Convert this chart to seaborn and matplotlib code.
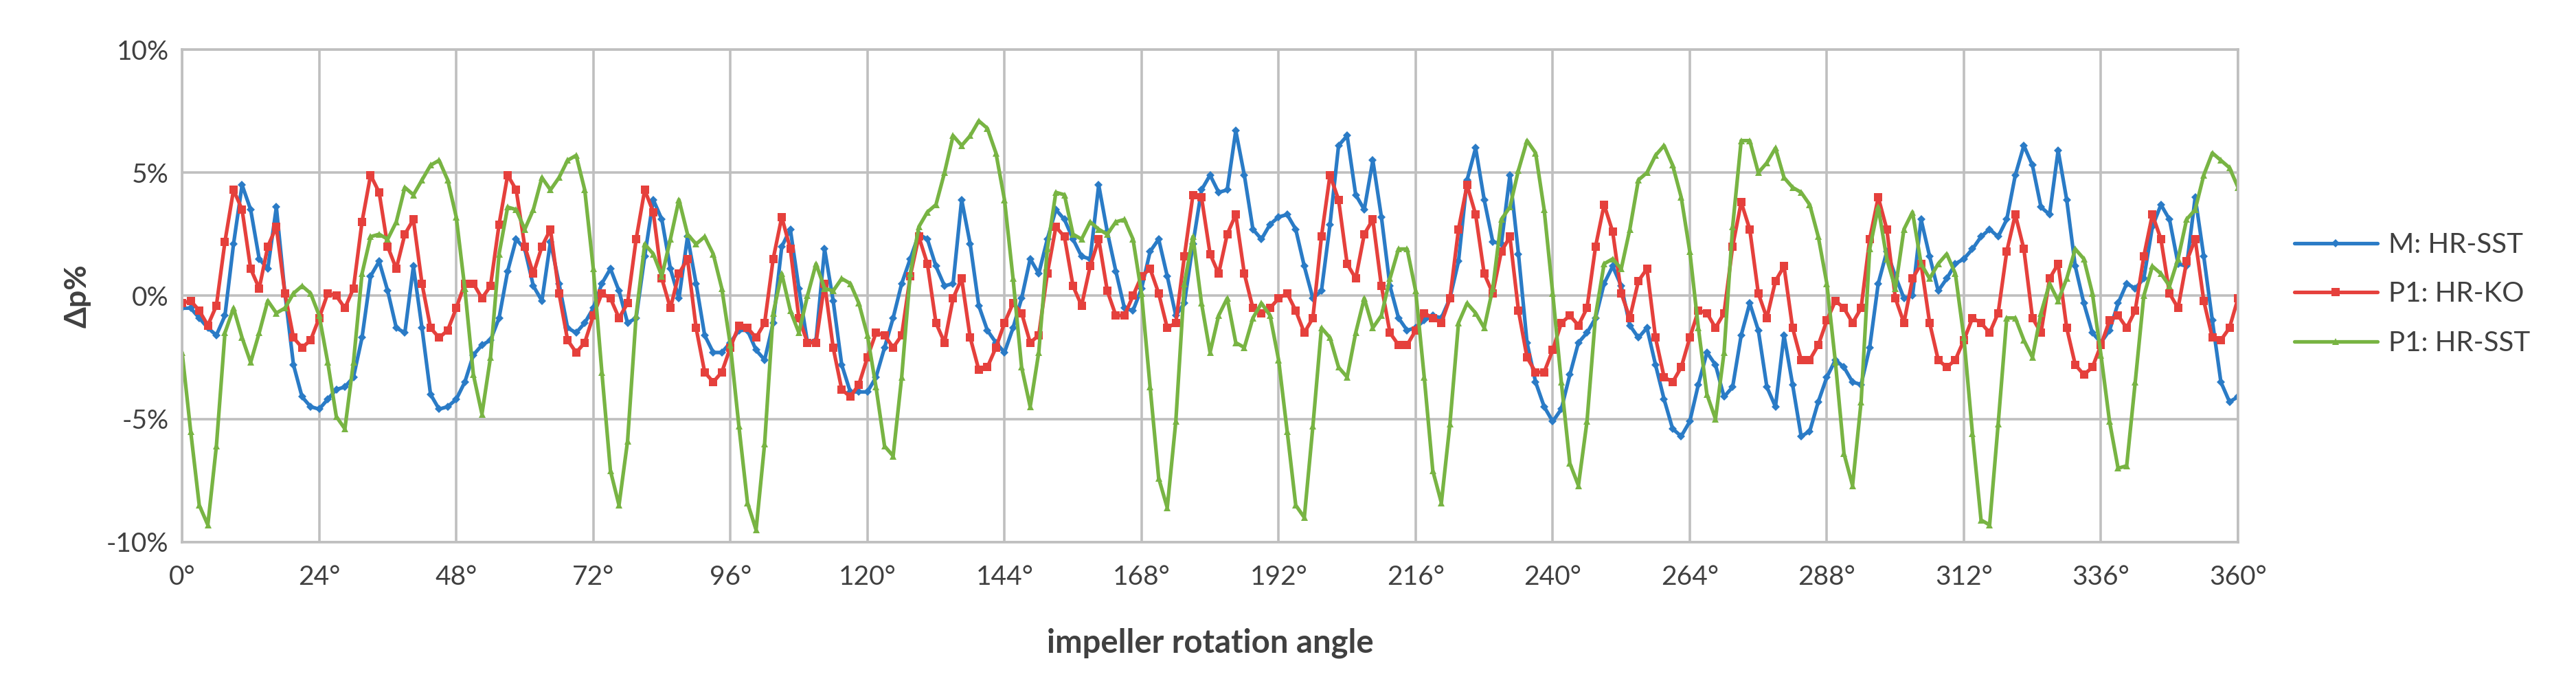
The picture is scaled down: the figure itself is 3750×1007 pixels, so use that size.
import numpy as np
import pandas as pd
import matplotlib
matplotlib.use('Agg')
import matplotlib.pyplot as plt
import seaborn as sns
from matplotlib.ticker import FuncFormatter

sns.set_style('white')
plt.rcParams['font.family'] = ['Lato', 'DejaVu Sans']

# impeller angle, one sample every 1.5 degrees (0..360)
angle = np.arange(0, 360.75, 1.5)

# pressure deviation in %
m_hr_sst = [
    -0.5, -0.5, -0.9, -1.3, -1.6, -0.8, 2.1, 4.5, 3.5, 1.5, 1.1, 3.6, 0.1, -2.8, -4.1, -4.5, -4.6, -4.2, -3.8, -3.7, -3.3, -1.7, 0.8,
    1.4, 0.2, -1.3, -1.5, 1.2, -1.3, -4.0, -4.6, -4.5, -4.2, -3.5, -2.4, -2.0, -1.8, -0.9, 1.0, 2.3, 1.9, 0.4, -0.2, 2.2, 0.5,
    -1.3, -1.5, -1.1, -0.5, 0.5, 1.1, 0.2, -1.1, -0.9, 1.6, 3.9, 3.1, 1.1, -0.1, 2.4, 0.5, -1.6, -2.3, -2.3, -1.9, -1.4, -1.4, -2.2,
    -2.6, -1.1, 2.0, 2.7, 0.3, -1.9, -1.8, 1.9, -0.2, -2.8, -3.9, -3.9, -3.9, -3.3, -2.1, -0.9, 0.5, 1.5, 2.5, 2.3, 1.2, 0.4,
    0.5, 3.9, 2.1, -0.4, -1.4, -1.9, -2.3, -1.3, -0.1, 1.5, 0.9, 2.3, 3.5, 3.1, 2.3, 1.6, 1.5, 4.5, 2.6, 1.0, -0.5, -0.6,
    0.3, 1.8, 2.3, 0.8, -0.8, -0.3, 2.1, 4.3, 4.9, 4.2, 4.3, 6.7, 4.9, 2.7, 2.3, 2.9, 3.2, 3.3, 2.7, 1.2, -0.1, 0.2,
    2.9, 6.1, 6.5, 4.1, 3.5, 5.5, 3.2, 0.4, -0.9, -1.4, -1.3, -1.0, -0.8, -0.9, -0.1, 1.4, 4.7, 6.0, 3.9, 2.2, 2.1, 4.9,
    1.7, -1.9, -3.5, -4.5, -5.1, -4.6, -3.2, -1.9, -1.5, -0.9, 0.5, 1.2, 0.4, -1.2, -1.7, -1.3, -2.8, -4.2, -5.4, -5.7, -5.1,
    -3.6, -2.3, -2.8, -4.1, -3.7, -1.6, -0.3, -1.4, -3.7, -4.5, -1.6, -3.6, -5.7, -5.5, -4.3, -3.3, -2.6, -2.9, -3.5, -3.6, -2.1, 0.5,
    1.8, 0.8, -0.1, 0.0, 3.1, 1.6, 0.2, 0.7, 1.3, 1.5, 1.9, 2.4, 2.7, 2.4, 3.1, 4.9, 6.1, 5.3, 3.6, 3.3, 5.9, 3.9,
    1.2, -0.3, -1.5, -1.9, -1.4, -0.3, 0.5, 0.3, 0.7, 2.8, 3.7, 3.1, 1.3, 1.2, 4.0, 1.6, -1.0, -3.5, -4.3, -4.1,
]
p1_hr_ko = [
    -0.3, -0.2, -0.6, -1.2, -0.4, 2.2, 4.3, 3.5, 1.1, 0.3, 2.0, 2.8, 0.1, -1.7, -2.1, -1.8, -0.9, 0.1, 0.0, -0.5, 0.3, 3.0, 4.9,
    4.2, 2.0, 1.1, 2.5, 3.1, 0.5, -1.3, -1.7, -1.4, -0.5, 0.5, 0.5, -0.1, 0.4, 2.9, 4.9, 4.3, 2.0, 0.9, 2.0, 2.7, 0.1,
    -1.8, -2.3, -1.9, -0.8, 0.1, -0.1, -0.9, -0.3, 2.3, 4.3, 3.4, 0.7, -0.5, 0.9, 1.5, -1.3, -3.1, -3.5, -3.1, -2.1, -1.2, -1.3,
    -1.7, -1.1, 1.5, 3.2, 1.9, -0.9, -1.9, -1.9, 0.5, -2.1, -3.8, -4.1, -3.6, -2.5, -1.5, -1.6, -2.1, -1.6, 0.8, 2.4, 1.3, -1.1, -1.9,
    -0.1, 0.7, -1.7, -3.0, -2.9, -2.1, -1.1, -0.3, -0.7, -1.9, -1.6, 0.9, 2.8, 2.4, 0.4, -0.4, 1.2, 2.3, 0.2, -0.8, -0.8, 0.0,
    0.8, 1.1, 0.1, -1.3, -1.1, 1.6, 4.1, 4.0, 1.7, 0.9, 2.5, 3.3, 0.9, -0.5, -0.7, -0.5, -0.1, 0.1, -0.6, -1.5, -0.9,
    2.4, 4.9, 3.9, 1.3, 0.7, 2.5, 3.1, 0.4, -1.5, -2.0, -2.0, -1.4, -0.7, -0.9, -1.1, -0.1, 2.7, 4.5, 3.3, 0.9, 0.1, 1.8, 2.4, -0.6,
    -2.5, -3.1, -3.1, -2.2, -1.1, -0.8, -1.2, -0.5, 2.0, 3.7, 2.6, 0.1, -0.9, 0.6, 1.1, -1.7, -3.3, -3.5, -2.9, -1.7, -0.6,
    -0.7, -1.3, -0.7, 2.0, 3.8, 2.7, 0.1, -0.9, 0.6, 1.2, -1.3, -2.6, -2.6, -2.0, -1.0, -0.2, -0.5, -1.1, -0.5, 2.3, 4.0, 2.7, -0.1,
    -1.1, 0.7, 1.3, -1.1, -2.6, -2.9, -2.6, -1.8, -0.9, -1.1, -1.5, -0.7, 1.8, 3.3, 1.9, -0.9, -1.5, 0.7, 1.3, -1.3,
    -2.8, -3.2, -2.9, -2.0, -1.0, -0.8, -1.3, -0.6, 1.6, 3.3, 2.3, 0.1, -0.5, 1.4, 2.3, -0.2, -1.7, -1.8, -1.3, -0.1,
]
p1_hr_sst = [
    -2.3, -5.5, -8.5, -9.3, -6.1, -1.5, -0.5, -1.7, -2.7, -1.5, -0.2, -0.7, -0.5, 0.1, 0.4, 0.1, -0.8, -2.7, -4.9, -5.4, -2.7, 0.9, 2.4,
    2.5, 2.3, 3.0, 4.4, 4.1, 4.7, 5.3, 5.5, 4.7, 3.2, 0.3, -3.2, -4.8, -2.5, 1.7, 3.6, 3.5, 2.7, 3.5, 4.8, 4.3, 4.8,
    5.5, 5.7, 4.3, 1.1, -3.1, -7.1, -8.5, -5.9, -0.8, 2.1, 1.7, 0.8, 2.3, 3.9, 2.5, 2.1, 2.4, 1.7, 0.3, -2.0, -5.3, -8.4,
    -9.5, -6.0, -0.7, 0.9, -0.6, -1.5, 0.0, 1.3, 0.3, 0.2, 0.7, 0.5, -0.3, -1.6, -3.7, -6.1, -6.5, -3.3, 0.9, 2.8, 3.4,
    3.7, 5.0, 6.5, 6.1, 6.5, 7.1, 6.8, 5.8, 3.9, 0.7, -2.9, -4.5, -2.3, 1.9, 4.2, 4.1, 2.5, 2.3, 3.0, 2.7, 2.5, 3.0, 3.1,
    2.3, 0.1, -3.7, -7.4, -8.6, -5.1, 0.5, 2.4, -0.3, -2.3, -0.8, -0.1, -1.9, -2.1, -0.9, -0.3, -0.8, -2.6, -5.5, -8.5, -9.0, -5.3, -1.3,
    -1.7, -2.9, -3.3, -1.5, -0.1, -1.3, -0.8, 0.7, 1.9, 1.9, 0.2, -3.3, -7.1, -8.4, -5.2, -1.1, -0.3, -0.7, -1.3, 0.3, 3.1, 3.6,
    5.1, 6.3, 5.8, 3.5, 0.1, -3.5, -6.8, -7.7, -5.1, -0.8, 1.3, 1.5, 1.1, 2.7, 4.7, 5.0, 5.7, 6.1, 5.3, 4.0, 1.8, -1.3,
    -4.0, -5.0, -2.3, 2.8, 6.3, 6.3, 5.0, 5.4, 6.0, 4.8, 4.4, 4.2, 3.7, 2.4, 0.5, -2.7, -6.4, -7.7, -4.3, 1.9, 3.6,
    1.5, 0.3, 2.7, 3.4, 1.3, 0.7, 1.3, 1.7, 0.9, -1.7, -5.6, -9.1, -9.3, -5.2, -0.9, -0.9, -1.8, -2.5, -0.7, 0.5, -0.2, 0.7,
    1.9, 1.5, 0.1, -2.4, -5.1, -7.0, -6.9, -3.5, 0.0, 1.2, 0.9, 0.4, 1.5, 3.1, 3.5, 4.9, 5.8, 5.5, 5.2, 4.4,
]

series_names = ['M: HR-SST', 'P1: HR-KO', 'P1: HR-SST']
colors = ['#2A7BC6', '#E5403C', '#78B443']
markers = ['D', 's', '^']
msizes = [6, 9, 7]

fig = plt.figure(figsize=(37.5, 10.07), dpi=100)
ax = fig.add_axes([0.0707, 0.2165, 0.7981, 0.712])

for name, vals, col, mk, ms in zip(series_names, [m_hr_sst, p1_hr_ko, p1_hr_sst], colors, markers, msizes):
    sns.lineplot(x=angle, y=vals, ax=ax, color=col, marker=mk, markersize=ms,
                 markeredgewidth=0, linewidth=3.8, label=name)

ax.set_xlim(0, 360)
ax.set_ylim(-10, 10)
ax.set_xticks(np.arange(0, 361, 24))
ax.set_yticks(np.arange(-10, 11, 5))
ax.xaxis.set_major_formatter(FuncFormatter(lambda v, p: f'{int(v)}°'))
ax.yaxis.set_major_formatter(FuncFormatter(lambda v, p: f'{int(v)}%'))
ax.tick_params(axis='both', length=0, labelsize=28, colors='#404040')
ax.tick_params(axis='x', pad=24)
ax.tick_params(axis='y', pad=14)
ax.grid(True, color='#BFBFBF', linewidth=2.6)
for s in ax.spines.values():
    s.set_color('#BFBFBF')
    s.set_linewidth(2.6)

ax.set_xlabel('impeller rotation angle', fontsize=34, fontweight='bold', color='#404040', labelpad=40)
ax.set_ylabel('Δp%', fontsize=32, fontweight='bold', color='#404040', labelpad=16)

ax.get_legend().remove()
handles, labels = ax.get_legend_handles_labels()
fig.legend(handles, labels, loc='center left', bbox_to_anchor=(0.881, 0.575),
           frameon=False, fontsize=29, handlelength=3.0, labelspacing=0.85,
           handletextpad=0.4, labelcolor='#404040')

fig.savefig('out.png', dpi=100)
